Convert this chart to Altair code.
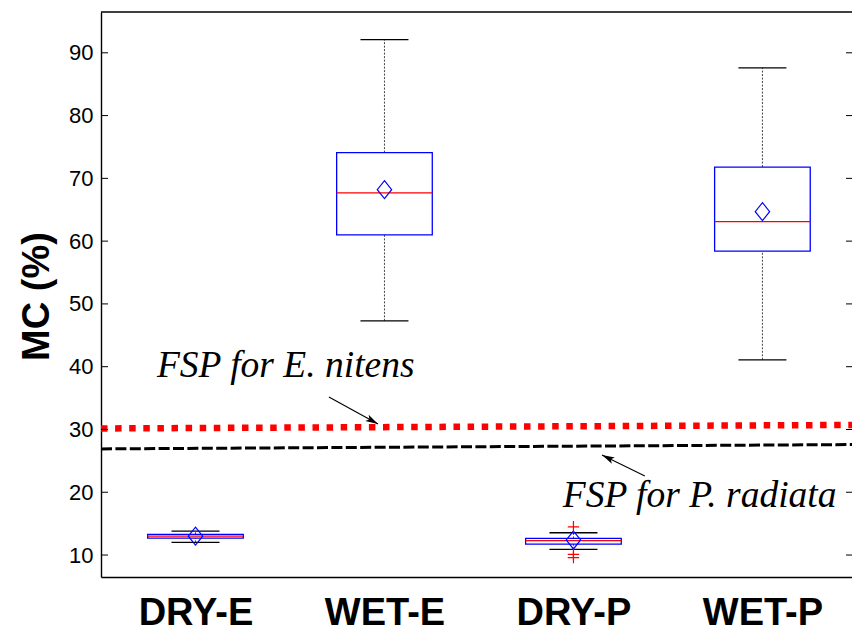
import altair as alt
import pandas as pd

# ---- data ----
groups = ["DRY-E", "WET-E", "DRY-P", "WET-P"]
positions = [1, 2, 3, 4]
whisker_low = [12.0, 47.3, 10.9, 41.1]
q1 = [12.7, 61.0, 11.75, 58.4]
median = [13.0, 67.7, 12.3, 63.1]
q3 = [13.3, 74.1, 12.65, 71.8]
whisker_high = [13.8, 92.1, 13.55, 87.6]
mean = [13.0, 68.2, 12.4, 64.7]

outlier_group_pos = [3, 3, 3]
outlier_values = [14.5, 10.1, 9.6]

# FSP reference lines (slightly sloped in the original)
fsp_names = ["E. nitens", "P. radiata"]
fsp_left = [30.16, 26.9]
fsp_right = [30.72, 27.6]

# annotations
ann_text = ["FSP for E. nitens", "FSP for P. radiata"]
ann_x = [0.796, 2.944]
ann_y = [38.37, 17.65]
arrow_x_tail = [1.706, 3.378]
arrow_y_tail = [35.18, 22.59]
arrow_x_tip = [1.966, 3.151]
arrow_y_tip = [30.88, 25.94]

y_ticks = [10, 20, 30, 40, 50, 60, 70, 80, 90]

X_DOMAIN = [0.5, 4.474]
Y_DOMAIN = [6.5, 96.5]
W, H = 751, 565

box = pd.DataFrame({
    "group": groups, "pos": positions, "lo": whisker_low, "q1": q1,
    "med": median, "q3": q3, "hi": whisker_high, "mean": mean,
})
outl = pd.DataFrame({"pos": outlier_group_pos, "v": outlier_values})
fsp = pd.DataFrame({"name": fsp_names, "y1": fsp_left, "y2": fsp_right,
                    "x1": [X_DOMAIN[0]] * 2, "x2": [X_DOMAIN[1]] * 2})
ann = pd.DataFrame({"t": ann_text, "x": ann_x, "y": ann_y})
arr = pd.DataFrame({"xt": arrow_x_tail, "yt": arrow_y_tail,
                    "xh": arrow_x_tip, "yh": arrow_y_tip})
ticks = pd.DataFrame({"v": y_ticks})

xs = alt.Scale(domain=X_DOMAIN, nice=False, zero=False)
ys = alt.Scale(domain=Y_DOMAIN, nice=False, zero=False)

label_expr = "[" + ",".join("'%s'" % g for g in groups) + "][datum.value - 1]"

AX = alt.Axis(
    values=positions, labelExpr=label_expr, title=None, grid=False,
    ticks=False, tickSize=0, labelFont="Liberation Sans", labelFontSize=38,
    labelFontWeight="bold", labelColor="black", labelPadding=47,
    labelBaseline="alphabetic", domainColor="black", domainWidth=1.6,
    labelFlush=False)
AY = alt.Axis(
    values=y_ticks, title="MC (%)", grid=False, ticks=False, tickSize=0,
    labelFont="Liberation Sans", labelFontSize=22, labelColor="black",
    labelPadding=8, domainColor="black", domainWidth=1.4,
    titleFont="Liberation Sans", titleFontSize=38, titleFontWeight="bold",
    titleColor="black", titleX=-53, titleY=284, titleBaseline="alphabetic",
    titleAngle=270, titleAlign="center")


def X(f):
    return alt.X(f, scale=xs, axis=AX, title=None)


def Y(f):
    return alt.Y(f, scale=ys, axis=AY, title="MC (%)")


base = alt.Chart(box)

fsp_red = alt.Chart(fsp[fsp["name"] == "E. nitens"]).mark_rule(
    color="#ff0000", strokeWidth=6.5, strokeDash=[6.5, 7.6], strokeCap="butt", clip=True
).encode(x=X("x1:Q"), x2="x2:Q", y=Y("y1:Q"), y2="y2:Q")

fsp_black = alt.Chart(fsp[fsp["name"] == "P. radiata"]).mark_rule(
    color="black", strokeWidth=3, strokeDash=[11, 3.4], strokeCap="butt", clip=True
).encode(x=X("x1:Q"), x2="x2:Q", y=Y("y1:Q"), y2="y2:Q")

whisk_lo = base.mark_rule(color="#444444", strokeWidth=1, strokeDash=[2, 1.5]).encode(
    x=X("pos:Q"), y=Y("lo:Q"), y2="q1:Q")
whisk_hi = base.mark_rule(color="#444444", strokeWidth=1, strokeDash=[2, 1.5]).encode(
    x=X("pos:Q"), y=Y("q3:Q"), y2="hi:Q")

caps = base.transform_fold(["lo", "hi"], as_=["k", "v"]).transform_calculate(
    xa="datum.pos - 0.127", xb="datum.pos + 0.127"
).mark_rule(color="black", strokeWidth=1.3).encode(
    x=X("xa:Q"), x2="xb:Q", y=Y("v:Q"))

boxes = base.transform_calculate(
    xa="datum.pos - 0.253", xb="datum.pos + 0.253"
).mark_rect(fill="white", stroke="#0000ff", strokeWidth=1.3).encode(
    x=X("xa:Q"), x2="xb:Q", y=Y("q1:Q"), y2="q3:Q")

medians = base.transform_calculate(
    xa="datum.pos - 0.253", xb="datum.pos + 0.253"
).mark_rule(color="#ff0000", strokeWidth=1.3).encode(
    x=X("xa:Q"), x2="xb:Q", y=Y("med:Q"))

means = base.mark_point(shape="M0,-1.12L0.9,0L0,1.12L-0.9,0Z", filled=False,
                        color="#0000ff", strokeWidth=1.2, size=256, opacity=1).encode(
    x=X("pos:Q"), y=Y("mean:Q"))

outliers = alt.Chart(outl).mark_point(shape="M-1,0L1,0M0,-1L0,1", filled=False,
                                      color="#ff0000", strokeWidth=1.2, size=130,
                                      opacity=1).encode(
    x=X("pos:Q"), y=Y("v:Q"))

arrow_lines = alt.Chart(arr).mark_rule(color="black", strokeWidth=1.1).encode(
    x=X("xt:Q"), x2="xh:Q", y=Y("yt:Q"), y2="yh:Q")

head_path = "M0,0L-2,-0.55L-1.55,0L-2,0.55Z"
head1 = alt.Chart(arr.iloc[[0]]).mark_point(shape=head_path, filled=True, color="black",
                                            size=160, angle=28.9, opacity=1).encode(
    x=X("xh:Q"), y=Y("yh:Q"))
head2 = alt.Chart(arr.iloc[[1]]).mark_point(shape=head_path, filled=True, color="black",
                                            size=160, angle=206, opacity=1).encode(
    x=X("xh:Q"), y=Y("yh:Q"))

labels = alt.Chart(ann).mark_text(font="Liberation Serif", fontStyle="italic",
                                  fontSize=37.5, align="left", baseline="alphabetic",
                                  color="black").encode(
    x=X("x:Q"), y=Y("y:Q"), text="t:N")

left_ticks = alt.Chart(ticks).mark_rule(color="black", strokeWidth=1).encode(
    x=alt.value(0), x2=alt.value(7), y=Y("v:Q"))
right_ticks = alt.Chart(ticks).mark_rule(color="black", strokeWidth=1).encode(
    x=alt.value(W - 6), x2=alt.value(W), y=Y("v:Q"))

top_border = alt.Chart(ticks.iloc[[0]]).mark_rule(color="black", strokeWidth=1.4).encode(
    x=alt.value(0), x2=alt.value(W), y=alt.value(0))

chart = alt.layer(
    fsp_black, fsp_red, whisk_lo, whisk_hi, boxes, medians, caps, means,
    outliers, arrow_lines, head1, head2, labels, left_ticks, right_ticks, top_border
).properties(
    width=W, height=H,
    autosize=alt.AutoSizeParams(type="none"),
    padding={"left": 101, "top": 12, "right": 0, "bottom": 53},
    background="white",
).configure_view(stroke=None)

chart.save("out.html", embed_options={"renderer": "svg", "actions": False})
